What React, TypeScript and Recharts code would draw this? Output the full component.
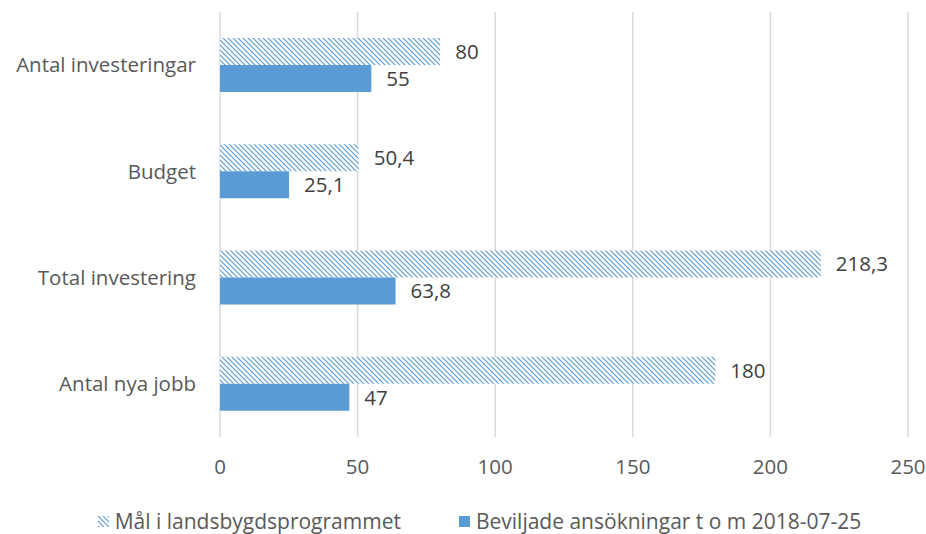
import { BarChart, Bar, XAxis, YAxis, CartesianGrid, LabelList, Legend } from 'recharts';

const categories = ['Antal investeringar', 'Budget', 'Total investering', 'Antal nya jobb'];
const malValues = [80, 50.4, 218.3, 180];
const beviljadeValues = [55, 25.1, 63.8, 47];
const xTicks = [0, 50, 100, 150, 200, 250];

const seriesNames = ['Mål i landsbygdsprogrammet', 'Beviljade ansökningar t o m 2018-07-25'];

const data = categories.map((name, i) => ({
  name,
  mal: malValues[i],
  beviljade: beviljadeValues[i],
}));

const BLUE = '#5B9BD5';
const FONT = '"Open Sans", sans-serif';
const FS = 20.5;

const fmt = (v: number) => String(v).replace('.', ',');

const LegendContent = () => (
  <div
    style={{
      display: 'flex',
      justifyContent: 'center',
      alignItems: 'center',
      fontFamily: FONT,
      fontSize: 21,
      lineHeight: '24px',
      color: '#595959',
      paddingTop: 32,
      paddingLeft: 51,
      whiteSpace: 'nowrap',
    }}
  >
    <svg width={11} height={11} style={{ marginRight: 6 }}>
      <rect width={11} height={11} fill="url(#hatch)" />
    </svg>
    <span style={{ marginRight: 58 }}>{seriesNames[0]}</span>
    <svg width={11} height={11} style={{ marginRight: 6 }}>
      <rect width={11} height={11} fill={BLUE} />
    </svg>
    <span>{seriesNames[1]}</span>
  </div>
);

const App = () => {
  return (
    <div style={{ position: 'absolute', left: 0, top: 0, background: '#fff' }}>
      <BarChart
        width={926}
        height={534}
        data={data}
        layout="vertical"
        margin={{ top: 12, right: 18, left: 0, bottom: 0 }}
        barGap={0}
        barCategoryGap={26}
      >
        <defs>
          <pattern id="hatch" patternUnits="userSpaceOnUse" width={5} height={5}>
            <rect width={5} height={5} fill="#fff" />
            <path d="M-1,-1 L6,6 M-1,4 L1,6 M4,-1 L6,1" stroke={BLUE} strokeWidth={1.2} />
          </pattern>
        </defs>
        <CartesianGrid horizontal={false} stroke="#d9d9d9" strokeWidth={1.5} />
        <XAxis
          type="number"
          domain={[0, 250]}
          ticks={xTicks}
          axisLine={false}
          tickLine={false}
          tickMargin={16}
          height={40}
          tick={{ fill: '#595959', fontSize: FS, fontFamily: FONT }}
        />
        <YAxis
          type="category"
          dataKey="name"
          width={220}
          axisLine={false}
          tickLine={false}
          tickSize={0}
          tickMargin={24}
          tick={{ fill: '#595959', fontSize: FS, fontFamily: FONT }}
        />
        <Legend content={<LegendContent />} verticalAlign="bottom" height={57} />
        <Bar dataKey="mal" name={seriesNames[0]} fill="url(#hatch)" barSize={27} isAnimationActive={false}>
          <LabelList
            dataKey="mal"
            position="right"
            offset={15}
            formatter={(v: number) => fmt(v)}
            style={{ fill: '#404040', fontSize: FS, fontFamily: FONT }}
          />
        </Bar>
        <Bar dataKey="beviljade" name={seriesNames[1]} fill={BLUE} barSize={27} isAnimationActive={false}>
          <LabelList
            dataKey="beviljade"
            position="right"
            offset={15}
            formatter={(v: number) => fmt(v)}
            style={{ fill: '#404040', fontSize: FS, fontFamily: FONT }}
          />
        </Bar>
      </BarChart>
    </div>
  );
};

export default App;
